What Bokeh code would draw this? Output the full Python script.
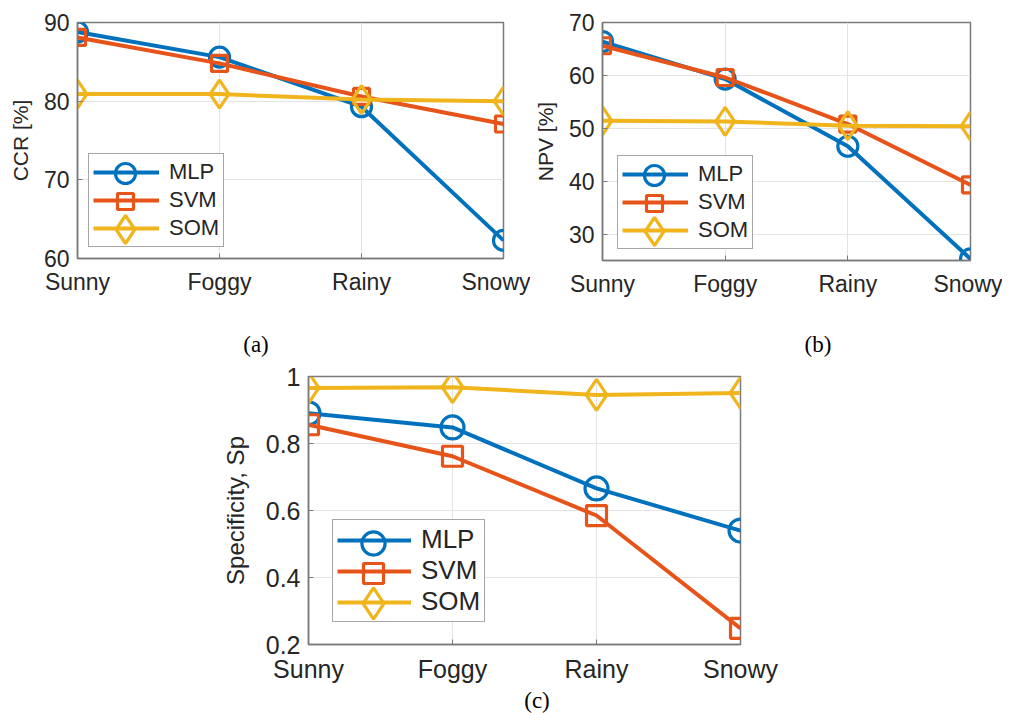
from bokeh.plotting import figure
from bokeh.layouts import row, column, Spacer
from bokeh.models import FixedTicker, Legend, LegendItem, Range1d, Div
from bokeh.embed import file_html
from bokeh.resources import INLINE

# ---------------- data ----------------
conditions = ["Sunny", "Foggy", "Rainy", "Snowy"]
methods = ["MLP", "SVM", "SOM"]

ccr_mlp = [88.8, 85.6, 79.3, 62.3]
ccr_svm = [88.1, 84.8, 80.6, 77.1]
ccr_som = [80.9, 80.9, 80.2, 80.0]

npv_mlp = [66.4, 59.3, 46.6, 25.3]
npv_svm = [65.6, 59.6, 50.8, 39.3]
npv_som = [51.4, 51.3, 50.5, 50.4]

sp_mlp = [0.89, 0.848, 0.666, 0.54]
sp_svm = [0.856, 0.762, 0.585, 0.248]
sp_som = [0.966, 0.968, 0.945, 0.951]

ccr_ticks = [60, 70, 80, 90]
npv_ticks = [30, 40, 50, 60, 70]
sp_ticks = [0.2, 0.4, 0.6, 0.8, 1.0]
sp_tick_labels = ["0.2", "0.4", "0.6", "0.8", "1"]

captions = ["(a)", "(b)", "(c)"]

# ---------------- style ----------------
COLORS = {"MLP": "#0072BD", "SVM": "#E6541A", "SOM": "#F0B41C"}
MARKERS = {"MLP": "circle", "SVM": "square", "SOM": "diamond"}
TXT = "#262626"
SANS = "Liberation Sans"
SERIF = "Liberation Serif"


def panel(series, ylabel, yrange, yticks, ytick_labels, geom, fs, msizes,
          legend_geom):
    fw, fh, bl, br, bt, bb = geom
    tick_fs, lab_fs, leg_fs, lab_standoff = fs
    p = figure(frame_width=fw, frame_height=fh,
               x_range=Range1d(0, len(conditions) - 1),
               y_range=Range1d(*yrange),
               min_border_left=bl, min_border_right=br,
               min_border_top=bt, min_border_bottom=bb,
               output_backend="svg", toolbar_location=None,
               background_fill_color="white", border_fill_color="white")
    p.outline_line_color = "#7a7a7a"
    p.outline_line_width = 1.5

    xs = list(range(len(conditions)))
    p.xaxis.ticker = FixedTicker(ticks=xs)
    p.xaxis.major_label_overrides = {i: c for i, c in enumerate(conditions)}
    p.yaxis.ticker = FixedTicker(ticks=yticks)
    p.yaxis.major_label_overrides = {t: l for t, l in zip(yticks, ytick_labels)}
    for ax in (p.xaxis[0], p.yaxis[0]):
        ax.axis_line_color = "#7a7a7a"
        ax.axis_line_width = 1.5
        ax.major_tick_line_color = "#7a7a7a"
        ax.major_tick_in = 5
        ax.major_tick_out = 0
        ax.minor_tick_line_color = None
        ax.major_label_text_font = SANS
        ax.major_label_text_font_size = tick_fs
        ax.major_label_text_color = TXT
    p.xaxis.major_label_standoff = 10
    p.yaxis.major_label_standoff = 8
    p.yaxis.axis_label = ylabel
    p.yaxis.axis_label_text_font = SANS
    p.yaxis.axis_label_text_font_style = "normal"
    p.yaxis.axis_label_text_font_size = lab_fs
    p.yaxis.axis_label_text_color = TXT
    p.yaxis.axis_label_standoff = lab_standoff

    p.xgrid.ticker = FixedTicker(ticks=xs)
    p.ygrid.ticker = FixedTicker(ticks=yticks)
    p.grid.grid_line_color = "#e3e3e3"
    p.grid.grid_line_width = 1

    lx, ly, pad, gw, gh, stand = legend_geom
    n = len(methods)
    box_h = 2 * pad + n * gh
    line_items, mark_legends = [], []
    for i, (name, ys) in enumerate(zip(methods, series)):
        c = COLORS[name]
        lr = p.line(xs, ys, line_color=c, line_width=4)
        mr = p.scatter(xs, ys, marker=MARKERS[name], size=msizes[name],
                       line_color=c, line_width=3.2, fill_alpha=0)
        line_items.append(LegendItem(label=name, renderers=[lr]))
        # marker shown in its own transparent legend so it can be drawn large
        g = msizes[name] / 0.4
        cx = lx + pad + gw / 2
        cy = ly + box_h - pad - gh / 2 - i * gh
        mark_legends.append(Legend(
            items=[LegendItem(label="", renderers=[mr])],
            location=(round(cx - g / 2), round(cy - g / 2)),
            padding=0, margin=0, glyph_width=round(g), glyph_height=round(g),
            label_height=1, label_width=1, label_standoff=0,
            label_text_font_size="1px",
            border_line_alpha=0, background_fill_alpha=0))

    leg_lines = Legend(items=line_items, location=(lx, ly), padding=pad,
                       glyph_width=gw, glyph_height=gh, label_height=gh,
                       spacing=0, label_standoff=stand, margin=0,
                       label_text_font=SANS, label_text_font_size=leg_fs,
                       label_text_color=TXT,
                       border_line_color="#4d4d4d", border_line_width=1.2,
                       background_fill_color="white", background_fill_alpha=1)
    p.add_layout(leg_lines, "center")
    for lg in mark_legends:
        p.add_layout(lg, "center")
    return p


def caption(text, width, height):
    return Div(text=text, width=width, height=height, margin=0,
               styles={"font-family": SERIF, "font-size": "23px",
                       "color": "black", "text-align": "center",
                       "line-height": f"{height}px"})


msz_ab = {"MLP": 20, "SVM": 16, "SOM": 28}
msz_c = {"MLP": 23, "SVM": 20, "SOM": 31}

pa = panel([ccr_mlp, ccr_svm, ccr_som], "CCR [%]", (60, 90), ccr_ticks,
           [str(t) for t in ccr_ticks],
           (426, 236, 77, 27, 22, 72), ("23px", "21px", "22px", 9), msz_ab,
           (11, 11, 4, 66, 28, 10))

pb = panel([npv_mlp, npv_svm, npv_som], "NPV [%]", (25, 70), npv_ticks,
           [str(t) for t in npv_ticks],
           (368, 238, 68, 32, 20, 72), ("23px", "21px", "22px", 9), msz_ab,
           (15, 11, 4, 66, 28, 10))

pc = panel([sp_mlp, sp_svm, sp_som], "Specificity, Sp", (0.2, 1.0), sp_ticks,
           sp_tick_labels,
           (432, 268, 93, 60, 16, 46), ("25px", "24px", "26px", 14), msz_c,
           (24, 22, 4, 74, 30, 10))

cap_row1 = row(Spacer(width=226, height=30, margin=0), caption(captions[0], 60, 30),
               Spacer(width=502, height=30, margin=0), caption(captions[1], 60, 30))
row2 = row(Spacer(width=215, height=10, margin=0), pc)
cap_row2 = row(Spacer(width=507, height=22, margin=0), caption(captions[2], 60, 22))

layout = column(row(pa, pb), cap_row1, row2, cap_row2)

open("out.html", "w").write(file_html(layout, INLINE))
